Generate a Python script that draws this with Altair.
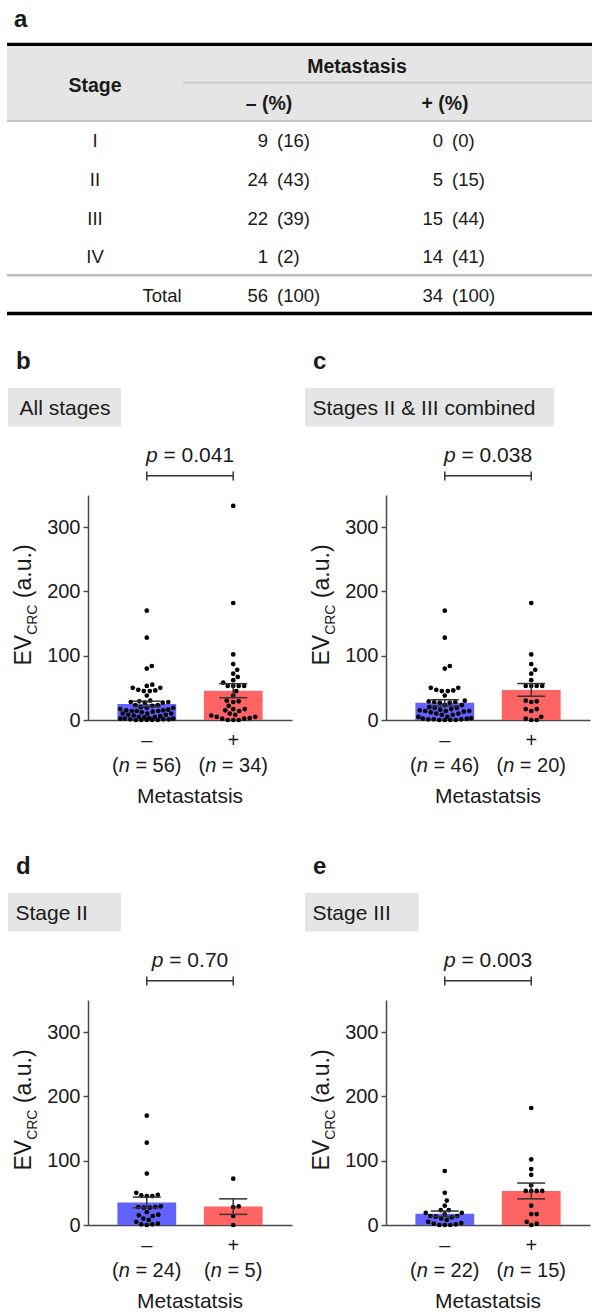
import altair as alt
import pandas as pd

# ---------------- panel a : table ----------------
table_rows = ["I", "II", "III", "IV", "Total"]
minus_n = [9, 24, 22, 1, 56]
minus_pct = [16, 43, 39, 2, 100]
plus_n = [0, 5, 15, 14, 34]
plus_pct = [0, 15, 44, 41, 100]

# ---------------- EV_CRC values (a.u.) by stage and metastasis ----------------
groups = ["–", "+"]
stage1_minus = [55, 53, 22, 15, 10, 7, 4, 2, 0]
stage1_plus = []
stage2_minus = [170, 128, 80, 50, 47, 46, 45, 45, 29, 28, 28, 27, 27, 20, 16, 15,
                14, 10, 8, 5, 2, 1, 1, 0]
stage2_plus = [72, 29, 28, 14, 0]
stage3_minus = [84, 50, 38, 30, 23, 23, 19, 19, 17, 14, 14, 13, 12, 10, 8, 5, 3,
                2, 1, 0, 0, 0]
stage3_plus = [182, 102, 87, 78, 62, 53, 53, 53, 53, 30, 17, 17, 5, 2, 0]
stage4_minus = [6]
stage4_plus = [333, 67, 58, 45, 38, 22, 15, 10, 8, 7, 5, 3, 2, 0]

panel_letters = ["b", "c", "d", "e"]
panel_titles = ["All stages", "Stages II & III combined", "Stage II", "Stage III"]
p_values = ["0.041", "0.038", "0.70", "0.003"]
y_ticks = [0, 100, 200, 300]
x_title = "Metastatsis"

# ---------------- style / layout ----------------
FONT = "Liberation Sans"
INK = "#1a1a1a"
AX = "#4a4a4a"
BLUE = "#6262ff"
RED = "#ff6464"
GREY = "#e5e5e5"

W, H, YMAX = 204, 225, 350
PI, PO = 0.32, 0.34                      # band padding (fractions of the step)
STEP = W / (len(groups) - PI + 2 * PO)   # px per category step
HALF_BAR = (1 - PI) / 2                  # half bar width, in steps
X_DOMAIN = [-(PO + HALF_BAR), len(groups) - 1 + PO + HALF_BAR]
PXU = H / YMAX
DOT_D = 5.4
MAXOFF = HALF_BAR * STEP - 2.5
CAP = 14 / STEP                           # half cap width, in steps

CW = {" ": .278, "(": .333, ")": .333, "=": .584, ".": .278, "n": .556, "p": .556,
      "E": .667, "V": .667, "C": .722, "R": .722, "a": .556, "u": .556}


def tw(s, size):
    return sum(CW.get(ch, .556) for ch in s) * size


def swarm(vals):
    """Deterministic dot-plot layout: nearest free slot to the centre line,
    limited to the bar width (least overlap when no free slot remains)."""
    order = sorted(range(len(vals)), key=lambda i: (vals[i], i))
    placed = []
    out = [0.0] * len(vals)
    cands = [0.0]
    k = 1
    while k * 0.5 <= MAXOFF:
        cands += [k * 0.5, -k * 0.5]
        k += 1
    for i in order:
        y = vals[i] * PXU
        found = None
        best, bestd = 0.0, -1.0
        for s in cands:
            d = min([((s - px) ** 2 + (y - py) ** 2) ** 0.5 for px, py in placed] or [99])
            if d >= DOT_D:
                found = s
                break
            if d > bestd + 1e-9:
                best, bestd = s, d
        if found is None:
            found = best
        placed.append((found, y))
        out[i] = found / STEP
    return out


one = pd.DataFrame({"k": [0]})


def pin(x1, y1, x2, y2):
    return alt.Chart(one).mark_rule(opacity=0).encode(
        x=alt.value(x1), x2=alt.value(x2), y=alt.value(y1), y2=alt.value(y2))


def txt(s, x, y, size, weight="normal", style="normal", align="left", angle=0):
    return alt.Chart(pd.DataFrame({"t": [s]})).mark_text(
        align=align, baseline="alphabetic", font=FONT, fontSize=size,
        fontWeight=weight, fontStyle=style, angle=angle, color=INK
    ).encode(x=alt.value(x), y=alt.value(y), text="t:N")


def box(x1, y1, x2, y2, color):
    return alt.Chart(one).mark_rect(color=color).encode(
        x=alt.value(x1), x2=alt.value(x2), y=alt.value(y1), y2=alt.value(y2))


# ---------------- table chart ----------------
TWID, TH = 504, 155
TFS = 18.5
tdf = pd.DataFrame({"row": table_rows, "mn": minus_n, "mp": minus_pct,
                    "pn": plus_n, "pp": plus_pct})
tb = alt.Chart(tdf)
yrow = alt.Y("row:N", scale=alt.Scale(type="point", domain=table_rows, padding=0), axis=None)


def tcol(field, x, align, paren):
    expr = '"(" + datum.%s + ")"' % field if paren else '"" + datum.%s' % field
    return tb.transform_calculate(s=expr).mark_text(
        align=align, baseline="alphabetic", font=FONT, fontSize=TFS, color=INK
    ).encode(x=alt.value(x), y=yrow, text="s:N")


table = alt.layer(
    pin(-88, -147, TWID, 183),
    box(-81, -101, TWID, -27, GREY),
    box(-81, -104.3, TWID, -101, "#000000"),
    box(95, -65.2, TWID, -63.8, "#c6c6c6"),
    box(-81, -27, TWID, -25, "#c6c6c6"),
    box(-81, 127, TWID, 129.5, "#bdbdbd"),
    box(-81, 164.7, TWID, 168.3, "#000000"),
    txt("a", -74, -120, 24, weight="bold"),
    txt("Metastasis", 269, -74, 19.5, weight="bold", align="center"),
    txt("Stage", 7, -55, 19.5, weight="bold", align="center"),
    txt("– (%)", 181, -37, 19.5, weight="bold", align="center"),
    txt("+ (%)", 357, -37, 19.5, weight="bold", align="center"),
    tb.transform_filter("datum.row != 'Total'").mark_text(
        align="center", baseline="alphabetic", font=FONT, fontSize=TFS, color=INK
    ).encode(x=alt.value(7), y=yrow, text="row:N"),
    tb.transform_filter("datum.row == 'Total'").mark_text(
        align="center", baseline="alphabetic", font=FONT, fontSize=TFS, color=INK
    ).encode(x=alt.value(74), y=yrow, text="row:N"),
    tcol("mn", 180, "right", False),
    tcol("mp", 189, "left", True),
    tcol("pn", 355, "right", False),
    tcol("pp", 364, "left", True),
).properties(width=TWID, height=TH)

# ---------------- bar / dot panels ----------------
xscale = alt.Scale(domain=X_DOMAIN, nice=False, zero=False)
xaxis = alt.Axis(title=None, labels=False, ticks=False, grid=False,
                 domainColor=AX, domainWidth=1.5)
yscale = alt.Scale(domain=[0, YMAX], nice=False)
yaxis = alt.Axis(values=y_ticks, title=None, grid=False, tickSize=5, tickWidth=1.5,
                 tickColor=AX, domainColor=AX, domainWidth=1.5, labelFont=FONT,
                 labelFontSize=20, labelColor=INK, labelPadding=3)
colr = alt.Color("g:N", scale=alt.Scale(domain=groups, range=[BLUE, RED]), legend=None)


def XQ(field):
    return alt.X(field, scale=xscale, axis=xaxis)


def YQ(field):
    return alt.Y(field, scale=yscale, axis=yaxis)


LET_Y, BOX_Y1, BOX_Y2, TTL_Y = -126, -107, -68.5, -80.5
P_Y, BRK_Y = -33, -19.3
SIGN_Y, N_Y, XT_Y = 252, 277, 308
NFS = 20
SP = " "


def panel(i, mvals, pvals, box_x, title_x, letter_x, pins):
    offs = swarm(mvals) + swarm(pvals)
    idx = [0] * len(mvals) + [1] * len(pvals)
    df = pd.DataFrame({
        "g": [groups[0]] * len(mvals) + [groups[1]] * len(pvals),
        "idx": idx,
        "v": mvals + pvals,
        "pos": [a + b for a, b in zip(idx, offs)],
    })
    base = alt.Chart(df)
    stats = base.transform_aggregate(
        mean="mean(v)", sem="stderr(v)", groupby=["g", "idx"]
    ).transform_calculate(
        lo="datum.mean - datum.sem", hi="datum.mean + datum.sem",
        b1="datum.idx - %f" % HALF_BAR, b2="datum.idx + %f" % HALF_BAR,
        c1="datum.idx - %f" % CAP, c2="datum.idx + %f" % CAP, zero="0",
    )

    bars = stats.mark_rect().encode(
        x=XQ("b1:Q"), x2="b2:Q", y=YQ("mean:Q"), y2="zero:Q", color=colr)
    dots = base.mark_circle(size=22, color="#000000", opacity=1).encode(
        x=XQ("pos:Q"), y=YQ("v:Q"))
    err = stats.mark_rule(color="#333333", strokeWidth=1.5).encode(
        x=XQ("idx:Q"), y=YQ("lo:Q"), y2="hi:Q")
    cap_lo = stats.mark_rule(color="#333333", strokeWidth=1.5).encode(
        x=XQ("c1:Q"), x2="c2:Q", y=YQ("lo:Q"))
    cap_hi = stats.mark_rule(color="#333333", strokeWidth=1.5).encode(
        x=XQ("c1:Q"), x2="c2:Q", y=YQ("hi:Q"))

    gdf = pd.DataFrame({"g": groups, "idx": list(range(len(groups)))})
    brk = alt.Chart(gdf).mark_line(color="#333333", strokeWidth=1.5).encode(
        x=XQ("idx:Q"), y=alt.value(BRK_Y))
    brk_ends = alt.Chart(gdf).mark_rule(color="#333333", strokeWidth=1.5).encode(
        x=XQ("idx:Q"), y=alt.value(BRK_Y - 4.3), y2=alt.value(BRK_Y + 4.7))

    signs = alt.Chart(gdf).mark_text(
        align="center", baseline="alphabetic", font=FONT, fontSize=NFS, color=INK
    ).encode(x=XQ("idx:Q"), y=alt.value(SIGN_Y), text="g:N")

    # "(n = k)" labels with italic n
    part_rows = {"a": [], "b": [], "c": []}
    for gi, vals in enumerate([mvals, pvals]):
        rest = "= %d)" % len(vals)
        total = tw("(", NFS) + tw("n", NFS) + tw(SP + rest, NFS)
        s0 = -total / 2
        part_rows["a"].append({"pos": gi + s0 / STEP, "t": "("})
        part_rows["b"].append({"pos": gi + (s0 + tw("(", NFS)) / STEP, "t": "n"})
        part_rows["c"].append({"pos": gi + (s0 + tw("(n" + SP, NFS)) / STEP, "t": rest})
    nlayers = []
    for key, style in [("a", "normal"), ("b", "italic"), ("c", "normal")]:
        nlayers.append(alt.Chart(pd.DataFrame(part_rows[key])).mark_text(
            align="left", baseline="alphabetic", font=FONT, fontSize=NFS,
            fontStyle=style, color=INK
        ).encode(x=XQ("pos:Q"), y=alt.value(N_Y), text="t:N"))

    # p-value with italic p
    ptxt = "= " + p_values[i]
    PFS = 21
    ptot = tw("p" + SP + ptxt, PFS)
    px0 = W / 2 - ptot / 2

    # y title EV_CRC (a.u.)
    TFS1, TFS2 = 23, 14
    parts = [("EV", TFS1, -57.5, 0), ("CRC", TFS2, -51.5, 0),
             ("(a.u.)", TFS1, -57.5, tw(SP, TFS1))]
    L = sum(tw(s, fs) + gap for s, fs, _, gap in parts)
    ycur = 110 + L / 2
    ytitle = []
    for s, fs, xb, gap in parts:
        ycur -= gap
        ytitle.append(txt(s, xb, ycur, fs, angle=270))
        ycur -= tw(s, fs)

    layers = [
        pin(*pins),
        box(box_x[0], BOX_Y1, box_x[1], BOX_Y2, GREY),
        txt(panel_letters[i], letter_x, LET_Y, 24, weight="bold"),
        txt(panel_titles[i], title_x, TTL_Y, 21),
        bars, dots, err, cap_lo, cap_hi,
        brk, brk_ends,
        txt("p", px0, P_Y, PFS, style="italic"),
        txt(ptxt, px0 + tw("p" + SP, PFS), P_Y, PFS),
        signs,
        txt(x_title, W / 2, XT_Y, 21, align="center"),
    ] + nlayers + ytitle
    return alt.layer(*layers).properties(width=W, height=H)


all_minus = stage1_minus + stage2_minus + stage3_minus + stage4_minus
all_plus = stage1_plus + stage2_plus + stage3_plus + stage4_plus
comb_minus = stage2_minus + stage3_minus
comb_plus = stage2_plus + stage3_plus

pnl_b = panel(0, all_minus, all_plus, (-80, 33), -68.5, -72, (-88, -165, 208, 335))
pnl_c = panel(1, comb_minus, comb_plus, (-81, 168), -73.5, -73, (-90, -165, 206, 335))
pnl_d = panel(2, stage2_minus, stage2_plus, (-80, 33), -72.5, -72, (-88, -170, 208, 314))
pnl_e = panel(3, stage3_minus, stage3_plus, (-81, 32.7), -73.5, -73, (-90, -170, 206, 314))

row1 = alt.hconcat(pnl_b, pnl_c, spacing=0)
row2 = alt.hconcat(pnl_d, pnl_e, spacing=0)

chart = alt.vconcat(table, row1, row2, spacing=0).properties(
    padding=0, background="white"
).configure_view(stroke=None)

chart.save("out.html", embed_options={"renderer": "svg", "actions": False})
